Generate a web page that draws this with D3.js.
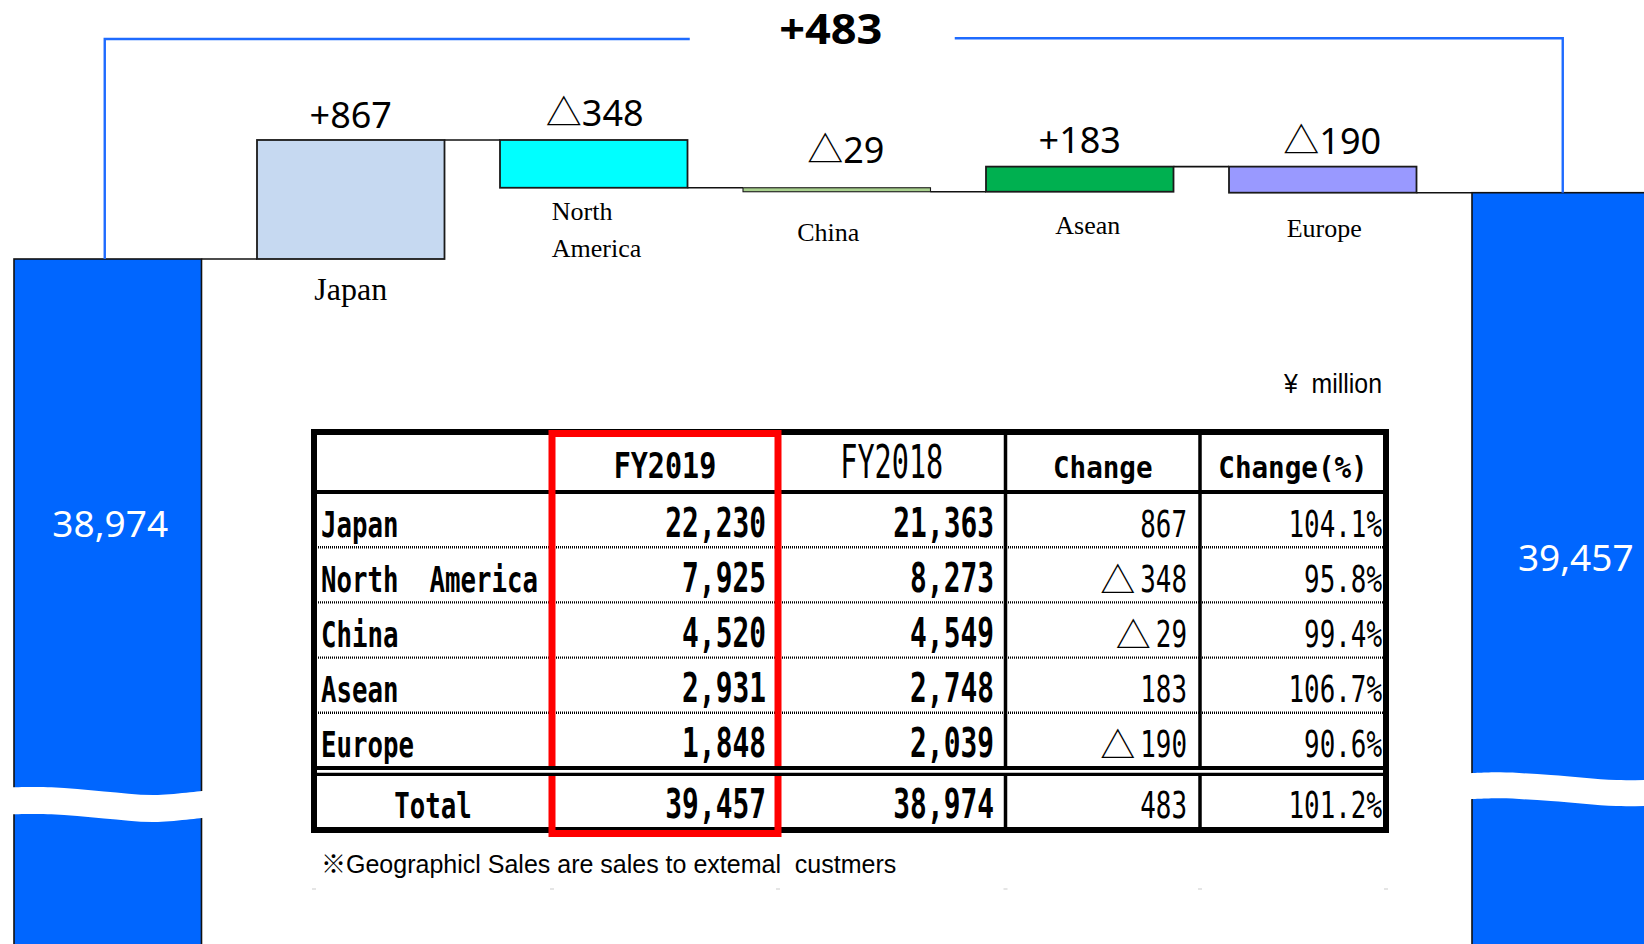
<!DOCTYPE html>
<html><head><meta charset="utf-8">
<script src="https://cdn.jsdelivr.net/npm/d3@7"></script>
<style>html,body{margin:0;padding:0;background:#fff;overflow:hidden} svg{display:block}</style>
</head><body>
<script>
// ---------------- data ----------------
const regions = ["Japan", "North America", "China", "Asean", "Europe"];
const chartLabels = [["Japan"], ["North", "America"], ["China"], ["Asean"], ["Europe"]];
const tableLabels = ["Japan", "North  America", "China", "Asean", "Europe"];
const fy2019 = [22230, 7925, 4520, 2931, 1848];
const fy2018 = [21363, 8273, 4549, 2748, 2039];
const change = [867, -348, -29, 183, -190];
const changePct = [104.1, 95.8, 99.4, 106.7, 90.6];
const totalFY2018 = 38974;
const totalFY2019 = 39457;
const totalChange = 483;
const totalPct = 101.2;
const headers = ["", "FY2019", "FY2018", "Change", "Change(%)"];
const totalLabel = "Total";
const unitLabel = "¥  million";
const footnote = "※Geographicl Sales are sales to extemal  custmers";
const barColors = ["#C6D9F1", "#00FFFF", "#A9D18E", "#00B050", "#9999FF"];
const totalColor = "#0066FF";

// ---------------- layout ----------------
const W = 1644, H = 944;
const svg = d3.select("body").append("svg").attr("width", W).attr("height", H);
const fmt = d3.format(",");
const signed = v => (v < 0 ? "△" : "+") + fmt(Math.abs(v));

function ctext(parent, o) {
  return parent.append("text")
    .attr("transform", `translate(${o.x},${o.y}) scale(${o.sx || 1},1)`)
    .attr("text-anchor", o.anchor || "start")
    .attr("xml:space", "preserve")
    .style("white-space", "pre")
    .style("font-family", o.family)
    .style("font-size", o.size + "px")
    .style("font-weight", o.weight || "normal")
    .attr("fill", o.fill || "#000")
    .text(o.text);
}

const keys = ["start", ...regions, "end"];
const x = d3.scaleBand().domain(keys).range([14, 1659.5]).paddingInner(0.2284).paddingOuter(0);
const bw = x.bandwidth();
const y = d3.scaleLinear().domain([totalFY2018, totalFY2019]).range([259, 192.7]);

let cum = totalFY2018;
const steps = change.map((c, i) => { const s = cum; cum += c; return {key: regions[i], start: s, end: cum, value: c, i}; });

const chart = svg.append("g");

// total bars
const totals = [
  {key: "start", value: totalFY2018, labelDx: 2.5, labelY: 537,
   wave: [[-3, 787.3], [0.2, 787.3], [0.48, 791.5], [0.75, 795], [1.02, 790.5]], thick: 27},
  {key: "end", value: totalFY2019, labelDx: 10, labelY: 571,
   wave: [[-0.02, 773.3], [0.15, 772.3], [0.42, 775], [0.77, 780], [0.95, 779.3]], thick: 26}
];
chart.selectAll("rect.total").data(totals).join("rect")
  .attr("x", d => x(d.key)).attr("y", d => y(d.value))
  .attr("width", bw).attr("height", d => H + 10 - y(d.value))
  .attr("fill", totalColor).attr("stroke", "#111").attr("stroke-width", 1.6);

const waveLine = d3.line().curve(d3.curveCatmullRom);
totals.forEach(d => {
  const x0 = x(d.key);
  const pts = d.wave.map(([t, yy]) => [x0 + t * bw, yy]);
  pts[0][0] = x0 - 3; pts[pts.length - 1][0] = Math.max(pts[pts.length - 1][0], x0 + bw + 3);
  const top = waveLine(pts);
  const bot = waveLine(pts.map(([a, b]) => [a, b + d.thick]).reverse());
  chart.append("path").attr("d", top + "L" + bot.slice(1) + "Z").attr("fill", "#fff");
  ctext(chart, {x: x0 + bw / 2 + d.labelDx, y: d.labelY, text: fmt(d.value), anchor: "middle",
    family: "'Noto Sans', sans-serif", size: 37, fill: "#fff"});
});

// connectors
const levels = [totalFY2018, ...steps.map(s => s.end)];
levels.forEach((lv, i) => {
  chart.append("line")
    .attr("x1", x(keys[i]) + bw).attr("x2", x(keys[i + 1]))
    .attr("y1", y(lv)).attr("y2", y(lv))
    .attr("stroke", "#111").attr("stroke-width", 1.6);
});

// step bars
chart.selectAll("rect.step").data(steps).join("rect")
  .attr("x", d => x(d.key)).attr("y", d => y(Math.max(d.start, d.end)))
  .attr("width", bw).attr("height", d => Math.abs(y(d.start) - y(d.end)))
  .attr("fill", d => barColors[d.i]).attr("stroke", "#1a1a1a")
  .attr("stroke-width", d => Math.abs(y(d.start) - y(d.end)) < 8 ? 1.1 : 1.8);

// value labels
const valueDx = [0, 1, 9, 0, 9.5];
const valueDy = [-12, -14, -25, -14, -12.5];
steps.forEach(s => {
  ctext(chart, {x: x(s.key) + bw / 2 + valueDx[s.i], y: y(Math.max(s.start, s.end)) + valueDy[s.i],
    text: signed(s.value), anchor: "middle", family: "'Noto Sans', 'Noto Sans CJK JP', sans-serif", size: 36});
});

// category labels
const catDx = [0, -42, -8.5, 8, 1.5];
const catDy = [41, 32, 49, 42.5, 44.6];
const catSize = [32, 26, 26, 26, 26];
steps.forEach(s => {
  const lines = chartLabels[s.i];
  const bottom = y(Math.min(s.start, s.end));
  lines.forEach((ln, j) => {
    ctext(chart, {x: x(s.key) + bw / 2 + catDx[s.i], y: bottom + catDy[s.i] + j * 37, text: ln,
      anchor: lines.length > 1 ? "start" : "middle", family: "'Liberation Serif', serif", size: catSize[s.i]});
  });
});

// bracket showing overall change
const bl = x("start") + bw / 2 - 3, br = x("end") + bw / 2 - 3, yBr = 39;
const mid = (bl + br) / 2;
chart.append("path").attr("d", `M${bl},${y(totalFY2018)}V${yBr}H${mid - 144}`)
  .attr("fill", "none").attr("stroke", "#1E6BFF").attr("stroke-width", 2.4);
chart.append("path").attr("d", `M${mid + 121},${yBr - 0.8}H${br}V${y(totalFY2019)}`)
  .attr("fill", "none").attr("stroke", "#1E6BFF").attr("stroke-width", 2.4);
ctext(chart, {x: mid - 3, y: 44, text: "+" + fmt(totalChange), anchor: "middle",
  family: "'Noto Sans', sans-serif", size: 41, weight: "bold", sx: 1.1});

// ---------------- table ----------------
const tbl = svg.append("g");
const colEdges = [314, 552, 778, 1005.5, 1200, 1386];
const headTop = 432, headBot = 492, bodyBot = 768, tblBot = 830;
const row = d3.scaleBand().domain(regions).range([headBot, bodyBot]);
const mono = "'DejaVu Sans Mono', monospace";

ctext(tbl, {x: 1382, y: 393, text: unitLabel, anchor: "end", family: "'Liberation Sans', sans-serif", size: 27, sx: 0.92});

// dotted row separators
regions.slice(1).forEach(r => {
  tbl.append("line").attr("x1", colEdges[0]).attr("x2", colEdges[5])
    .attr("y1", row(r)).attr("y2", row(r))
    .attr("stroke", "#000").attr("stroke-width", 2.4).attr("stroke-dasharray", "1 1");
});
// vertical lines
colEdges.slice(1, 5).forEach(cx => {
  tbl.append("line").attr("x1", cx).attr("x2", cx).attr("y1", headTop).attr("y2", tblBot)
    .attr("stroke", "#000").attr("stroke-width", 3.5);
});
// header bottom line
tbl.append("line").attr("x1", colEdges[0]).attr("x2", colEdges[5]).attr("y1", headBot).attr("y2", headBot)
  .attr("stroke", "#000").attr("stroke-width", 4);
// outer border
tbl.append("rect").attr("x", colEdges[0]).attr("y", headTop)
  .attr("width", colEdges[5] - colEdges[0]).attr("height", tblBot - headTop)
  .attr("fill", "none").attr("stroke", "#000").attr("stroke-width", 6);
// red highlight
tbl.append("rect").attr("x", colEdges[1]).attr("y", 433.5)
  .attr("width", colEdges[2] - colEdges[1]).attr("height", 400)
  .attr("fill", "none").attr("stroke", "#FF0000").attr("stroke-width", 7);
// double line above total
tbl.append("rect").attr("x", colEdges[0]).attr("y", bodyBot - 2).attr("width", colEdges[5] - colEdges[0])
  .attr("height", 10).attr("fill", "#fff");
tbl.append("line").attr("x1", colEdges[0] - 3).attr("x2", colEdges[5] + 3).attr("y1", bodyBot).attr("y2", bodyBot)
  .attr("stroke", "#000").attr("stroke-width", 4);
tbl.append("line").attr("x1", colEdges[0] - 3).attr("x2", colEdges[5] + 3).attr("y1", 774.3).attr("y2", 774.3)
  .attr("stroke", "#000").attr("stroke-width", 3.3);
[colEdges[0], colEdges[5]].forEach(cx => {
  tbl.append("line").attr("x1", cx).attr("x2", cx).attr("y1", bodyBot).attr("y2", 776)
    .attr("stroke", "#000").attr("stroke-width", 6);
});

// header texts
const headStyles = [null,
  {size: 36, weight: "bold", sx: 0.79},
  {size: 46, weight: "normal", sx: 0.62},
  {size: 31, weight: "bold", sx: 0.89},
  {size: 31, weight: "bold", sx: 0.89}];
headers.forEach((h, c) => {
  if (!h) return;
  const st = headStyles[c];
  ctext(tbl, {x: (colEdges[c] + colEdges[c + 1]) / 2, y: 478, text: h, anchor: "middle",
    family: mono, size: st.size, weight: st.weight, sx: st.sx});
});

const labelSt = {size: 36, weight: "bold", sx: 0.715};
const valSt = {size: 41, weight: "bold", sx: 0.68};
const chgSt = {size: 37, weight: "normal", sx: 0.70};
const rightX = [null, 766, 994, 1187, 1382];

function changeCell(v, yy) {
  const t = ctext(tbl, {x: rightX[3], y: yy, text: fmt(Math.abs(v)), anchor: "end", family: mono, size: chgSt.size, sx: chgSt.sx});
  if (v < 0) {
    const w = t.node().getComputedTextLength() * chgSt.sx;
    ctext(tbl, {x: rightX[3] - w - 5, y: yy + 1, text: "△", anchor: "end",
      family: "'Noto Sans CJK JP', sans-serif", size: 35});
  }
}

regions.forEach((r, i) => {
  const yy = row(r) + 44.5;
  ctext(tbl, {x: 321, y: yy, text: tableLabels[i], family: mono, ...labelSt});
  ctext(tbl, {x: rightX[1], y: yy, text: fmt(fy2019[i]), anchor: "end", family: mono, ...valSt});
  ctext(tbl, {x: rightX[2], y: yy, text: fmt(fy2018[i]), anchor: "end", family: mono, ...valSt});
  changeCell(change[i], yy);
  ctext(tbl, {x: rightX[4], y: yy, text: changePct[i].toFixed(1) + "%", anchor: "end", family: mono, ...chgSt});
});

// total row
const ty = 818;
ctext(tbl, {x: (colEdges[0] + colEdges[1]) / 2, y: ty, text: totalLabel, anchor: "middle", family: mono, ...labelSt});
ctext(tbl, {x: rightX[1], y: ty, text: fmt(totalFY2019), anchor: "end", family: mono, ...valSt});
ctext(tbl, {x: rightX[2], y: ty, text: fmt(totalFY2018), anchor: "end", family: mono, ...valSt});
changeCell(totalChange, ty);
ctext(tbl, {x: rightX[4], y: ty, text: totalPct.toFixed(1) + "%", anchor: "end", family: mono, ...chgSt});

// footnote
ctext(tbl, {x: 321, y: 873, text: footnote, family: "'Liberation Sans', 'Noto Sans CJK JP', sans-serif", size: 25});
// faint marks under table
colEdges.forEach(cx => {
  tbl.append("line").attr("x1", cx - 2).attr("x2", cx + 2).attr("y1", 889).attr("y2", 889)
    .attr("stroke", "#ddd").attr("stroke-width", 1.5);
});
</script>
</body></html>
